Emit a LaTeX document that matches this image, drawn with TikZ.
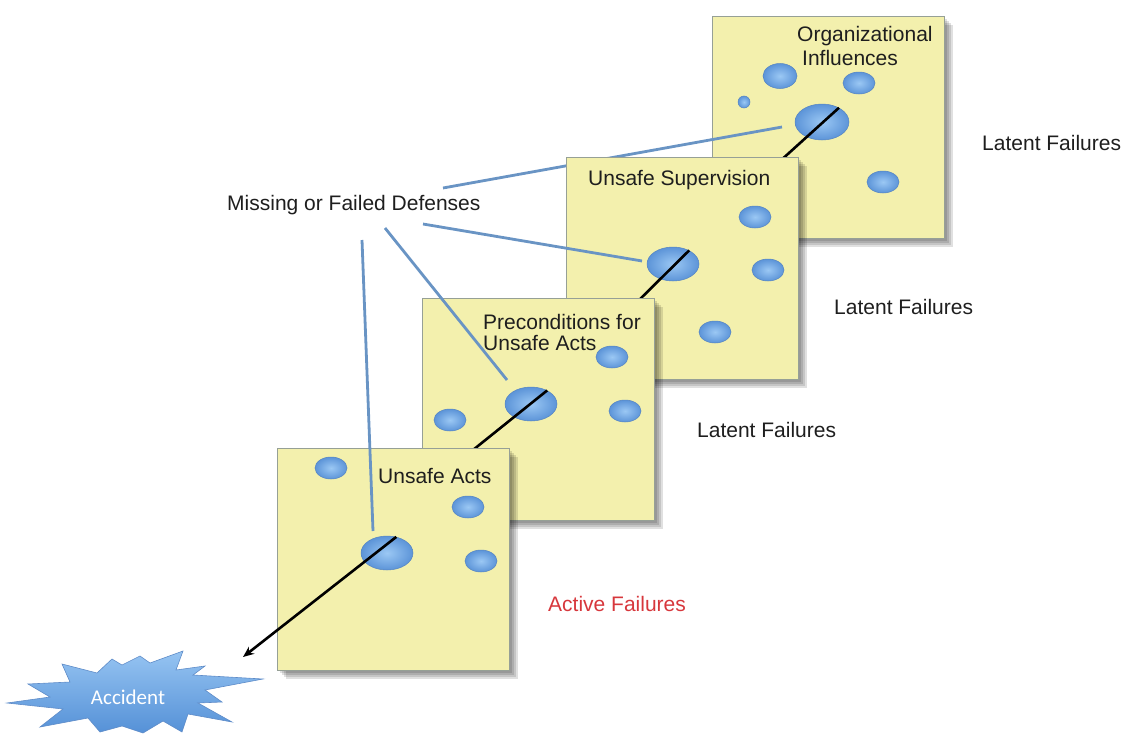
\documentclass[tikz,border=0pt]{standalone}
\usepackage{fontspec}
\setmainfont{Liberation Sans}
\newfontfamily\accfont{Carlito}
\usetikzlibrary{shapes.geometric,arrows.meta}
\definecolor{boxfill}{RGB}{243,240,173}
\definecolor{boxedge}{RGB}{150,160,150}
\definecolor{holein}{RGB}{155,200,244}
\definecolor{holeout}{RGB}{92,148,216}
\definecolor{holeedge}{RGB}{85,132,194}
\definecolor{defline}{RGB}{105,148,196}
\definecolor{txt}{RGB}{30,30,30}
\definecolor{actred}{RGB}{215,55,60}
\definecolor{acctop}{RGB}{150,196,242}
\definecolor{accbot}{RGB}{85,145,215}
\definecolor{accedge}{RGB}{95,140,200}
\newcommand\boxshadow[2]{%
  \foreach \d in {1,3,5,7,9} {\fill[black,opacity=0.12] (#1+\d,#2+\d) rectangle ++(232,222);}%
}
\begin{document}
\begin{tikzpicture}[x=1pt,y=-1pt,
  board/.style={draw=boxedge, fill=boxfill, line width=1pt, minimum width=232pt, minimum height=222pt, anchor=north west, inner sep=0pt, outer sep=0pt},
  hole/.style={ellipse, draw=holeedge, line width=0.5pt, shading=radial, inner color=holein, outer color=holeout, inner sep=0pt},
  smallhole/.style={hole, minimum width=32pt, minimum height=22pt},
  bighole/.style={hole, minimum width=52pt, minimum height=34pt},
  lbl/.style={font=\fontsize{21}{24}\selectfont, text=txt, anchor=west, inner sep=0pt},
  defense/.style={draw=defline, line width=2.8pt},
  failpath/.style={draw=black, line width=2.6pt}
]
\useasboundingbox (0,0) rectangle (1125,736);

% ---------- Organizational Influences ----------
\boxshadow{712}{16}
\node[board] (b4) at (712,16) {};
\node[hole, minimum width=34pt, minimum height=25pt] (h4a) at (780,76) {};
\node[smallhole] (h4b) at (859,83) {};
\node[hole, minimum width=12pt, minimum height=12pt] (h4c) at (744,102) {};
\node[hole, minimum width=54pt, minimum height=36pt] (h4) at (822,122) {};
\node[smallhole] (h4e) at (883,182) {};
\node[lbl] (t4a) at (797,36) {Organizational};
\node[lbl] (t4b) at (802,58) {Influences};
\coordinate (p4) at (768,172);
\draw[failpath] (h4.40) -- (p4);
\coordinate (d4) at (443,188);
\coordinate (e4) at (782,127);
\draw[defense] (d4) -- (e4);

% ---------- Unsafe Supervision ----------
\boxshadow{566}{157}
\node[board] (b3) at (566,157) {};
\node[smallhole] (h3a) at (755,217) {};
\node[bighole] (h3) at (673,264) {};
\node[smallhole] (h3c) at (768,270) {};
\node[smallhole] (h3d) at (715,332) {};
\node[lbl] (t3) at (588,180) {Unsafe Supervision};
\coordinate (p3) at (628,311);
\draw[failpath] (h3.40) -- (p3);
\coordinate (d3) at (423,224);
\coordinate (e3) at (642,261);
\draw[defense] (d3) -- (e3);

% ---------- Preconditions ----------
\boxshadow{422}{298}
\node[board] (b2) at (422,298) {};
\node[smallhole] (h2a) at (612,357) {};
\node[bighole] (h2) at (531,404) {};
\node[smallhole] (h2c) at (450,420) {};
\node[smallhole] (h2d) at (625,411) {};
\node[lbl] (t2a) at (483,322) {Preconditions for};
\node[lbl] (t2b) at (483,343) {Unsafe Acts};
\coordinate (p2) at (463,458);
\draw[failpath] (h2.40) -- (p2);
\coordinate (d2) at (385,228);
\coordinate (e2) at (507,380);
\draw[defense] (d2) -- (e2);

% ---------- Unsafe Acts ----------
\boxshadow{277}{448}
\node[board] (b1) at (277,448) {};
\node[smallhole] (h1a) at (331,468) {};
\node[smallhole] (h1b) at (468,507) {};
\node[bighole] (h1) at (387,553) {};
\node[smallhole] (h1d) at (481,561) {};
\node[lbl] (t1) at (378,476) {Unsafe Acts};
\coordinate (d1) at (362,240);
\coordinate (e1) at (373,531);
\draw[defense] (d1) -- (e1);

% ---------- Accident ----------
\draw[accedge, line width=0.6pt, top color=acctop, bottom color=accbot]
  (7,703) -- (50,697) -- (28,684) -- (70,682) -- (62,664) -- (97,673) -- (112,659)
  -- (122,665) -- (140,656) -- (150,663) -- (183,651) -- (176,670) -- (205,666)
  -- (193,675) -- (263,679) -- (205,690) -- (222,702) -- (198,703) -- (232,722)
  -- (188,714) -- (182,732) -- (163,721) -- (143,733) -- (122,726) -- (100,732)
  -- (88,718) -- (40,727) -- (63,709) -- cycle;
\node[font=\accfont\fontsize{21}{24}\selectfont, text=white, inner sep=0pt] (acc) at (128,697) {Accident};
\coordinate (tip) at (243,657);
\draw[failpath, -{Stealth[length=11pt,width=9pt]}] (h1.60) -- (tip);

% ---------- Labels ----------
\node[lbl] (missing) at (227,205) {Missing or Failed Defenses};
\node[lbl] (lat1) at (982,143) {Latent Failures};
\node[lbl] (lat2) at (834,307) {Latent Failures};
\node[lbl] (lat3) at (697,430) {Latent Failures};
\node[lbl, text=actred] (act) at (548,604) {Active Failures};
\end{tikzpicture}
\end{document}
